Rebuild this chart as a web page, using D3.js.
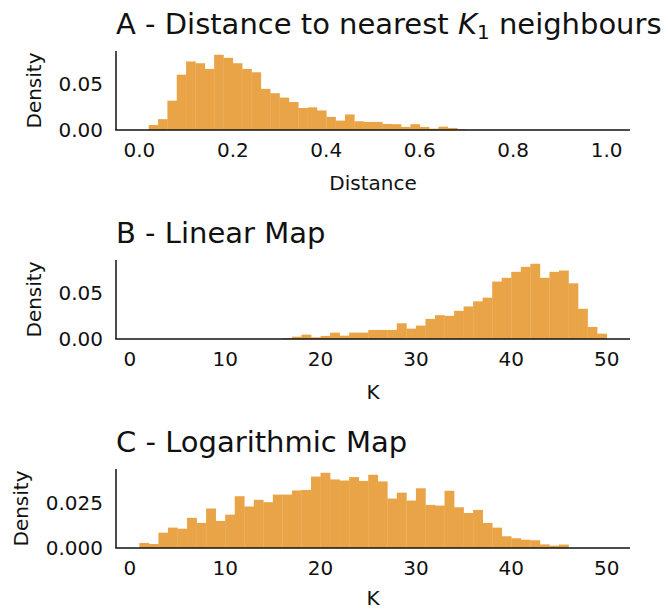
<!DOCTYPE html>
<html>
<head>
<meta charset="utf-8">
<script src="https://cdn.jsdelivr.net/npm/d3@7/dist/d3.min.js"></script>
<style>
  html, body { margin: 0; padding: 0; background: #fff; }
  text { font-family: "DejaVu Sans", sans-serif; fill: #111; }
</style>
</head>
<body>
<div id="chart"></div>
<script>
// --- data (bin left edges + bin values) ---
const distBinStarts = [0.02, 0.04, 0.06, 0.08, 0.10, 0.12, 0.14, 0.16, 0.18, 0.20,
  0.22, 0.24, 0.26, 0.28, 0.30, 0.32, 0.34, 0.36, 0.38, 0.40, 0.42, 0.44, 0.46,
  0.48, 0.50, 0.52, 0.54, 0.56, 0.58, 0.60, 0.62, 0.64, 0.66, 0.68];
const distDensity = [0.0054, 0.0116, 0.0315, 0.0594, 0.0736, 0.0717, 0.0656, 0.0808,
  0.0775, 0.0717, 0.0656, 0.0620, 0.0442, 0.0395, 0.0348, 0.0301, 0.0236, 0.0243,
  0.0210, 0.0141, 0.0101, 0.0167, 0.0094, 0.0087, 0.0087, 0.0065, 0.0062, 0.0033,
  0.0062, 0.0033, 0.0014, 0.0036, 0.0022, 0.0007];

const linearK = [16, 17, 18, 19, 20, 21, 22, 23, 24, 25, 26, 27, 28, 29, 30, 31, 32,
  33, 34, 35, 36, 37, 38, 39, 40, 41, 42, 43, 44, 45, 46, 47, 48, 49];
const linearDensity = [0.0010, 0.0025, 0.0047, 0.0018, 0.0033, 0.0069, 0.0036, 0.0069,
  0.0069, 0.0098, 0.0098, 0.0098, 0.0170, 0.0112, 0.0145, 0.0217, 0.0257, 0.0250,
  0.0304, 0.0351, 0.0406, 0.0446, 0.0620, 0.0660, 0.0725, 0.0779, 0.0812, 0.0660,
  0.0725, 0.0739, 0.0601, 0.0326, 0.0130, 0.0058];

const logK = [1, 2, 3, 4, 5, 6, 7, 8, 9, 10, 11, 12, 13, 14, 15, 16, 17, 18, 19, 20,
  21, 22, 23, 24, 25, 26, 27, 28, 29, 30, 31, 32, 33, 34, 35, 36, 37, 38, 39, 40,
  41, 42, 43, 44, 45];
const logDensity = [0.0028, 0.0022, 0.0085, 0.0113, 0.0107, 0.0167, 0.0139, 0.0219,
  0.0150, 0.0185, 0.0287, 0.0230, 0.0267, 0.0254, 0.0296, 0.0296, 0.0319, 0.0322,
  0.0396, 0.0417, 0.0380, 0.0374, 0.0393, 0.0372, 0.0406, 0.0369, 0.0274, 0.0307,
  0.0263, 0.0331, 0.0239, 0.0235, 0.0317, 0.0226, 0.0194, 0.0211, 0.0139, 0.0113,
  0.0065, 0.0054, 0.0046, 0.0043, 0.0020, 0.0013, 0.0019];

const distTicks = [0, 0.2, 0.4, 0.6, 0.8, 1.0];
const kTicks = [0, 10, 20, 30, 40, 50];

const W = 668, H = 609;
const BAR = "#e9a447";
const left = 116, right = 630, axH = 79;

const svg = d3.select("#chart").append("svg").attr("width", W).attr("height", H);

function panel(opt) {
    const g = svg.append("g");
    const top = opt.top, bottom = top + axH;

    const x = d3.scaleLinear().domain(opt.xDomain).range([left, right]);
    const yMax = d3.max(opt.values) * 1.05;
    const y = d3.scaleLinear().domain([0, yMax]).range([bottom, top]);

    // bars
    g.append("g").selectAll("rect").data(opt.starts).join("rect")
        .attr("x", d => x(d))
        .attr("width", d => x(d + opt.binW) - x(d) + 0.3)
        .attr("y", (d, i) => y(opt.values[i]))
        .attr("height", (d, i) => bottom - y(opt.values[i]))
        .attr("fill", BAR);

    // spines
    g.append("line").attr("x1", left).attr("x2", left).attr("y1", top).attr("y2", bottom)
        .attr("stroke", "#111").attr("stroke-width", 1.5);
    g.append("line").attr("x1", left - 0.75).attr("x2", right).attr("y1", bottom).attr("y2", bottom)
        .attr("stroke", "#111").attr("stroke-width", 1.5);

    // x tick labels
    g.append("g").selectAll("text").data(opt.xTicks).join("text")
        .attr("x", d => x(d)).attr("y", bottom + 27)
        .attr("text-anchor", "middle").style("font-size", "20px")
        .text(opt.xFmt);

    // y tick labels
    const yt = g.append("g").selectAll("text").data(opt.yTicks).join("text")
        .attr("x", left - 13).attr("y", d => y(d)).attr("dy", "0.36em")
        .attr("text-anchor", "end").style("font-size", "20px")
        .text(opt.yFmt);
    let maxW = 0;
    yt.each(function() { maxW = Math.max(maxW, this.getComputedTextLength()); });

    // axis labels
    g.append("text").attr("x", (left + right) / 2).attr("y", Math.min(bottom + 60, H - 4))
        .attr("text-anchor", "middle").style("font-size", "20px").text(opt.xLabel);
    const lx = left - 13 - maxW - 17.5;
    g.append("text").attr("transform", `translate(${lx},${(top + bottom) / 2}) rotate(-90)`)
        .attr("text-anchor", "middle").style("font-size", "20px").text("Density");

    // title
    const t = g.append("text").attr("x", left).attr("y", top - 17).style("font-size", "29px");
    opt.title(t);
}

panel({
    top: 51, xDomain: [-0.05, 1.05], starts: distBinStarts, binW: 0.02, values: distDensity,
    xTicks: distTicks, xFmt: d3.format(".1f"), yTicks: [0, 0.05], yFmt: d3.format(".2f"),
    xLabel: "Distance",
    title: t => {
        t.append("tspan").text("A - Distance to nearest ");
        t.append("tspan").style("font-style", "italic").text("K");
        t.append("tspan").attr("dy", 5).style("font-size", "20px").text("1");
        t.append("tspan").attr("dy", -5).text(" neighbours");
    }
});

panel({
    top: 260, xDomain: [-1.45, 52.45], starts: linearK, binW: 1, values: linearDensity,
    xTicks: kTicks, xFmt: d3.format("d"), yTicks: [0, 0.05], yFmt: d3.format(".2f"),
    xLabel: "K",
    title: t => t.text("B - Linear Map")
});

panel({
    top: 469, xDomain: [-1.45, 52.45], starts: logK, binW: 1, values: logDensity,
    xTicks: kTicks, xFmt: d3.format("d"), yTicks: [0, 0.025], yFmt: d3.format(".3f"),
    xLabel: "K",
    title: t => t.text("C - Logarithmic Map")
});
</script>
</body>
</html>
